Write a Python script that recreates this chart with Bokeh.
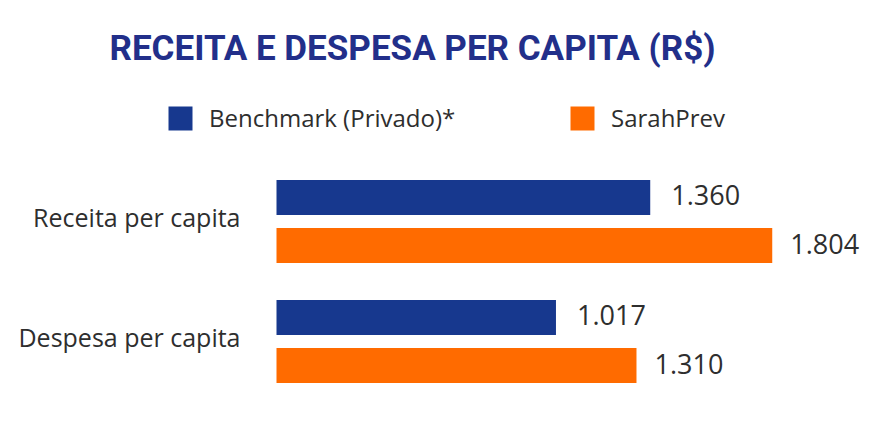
from bokeh.plotting import figure
from bokeh.models import ColumnDataSource, Range1d, Legend, LegendItem, Label
from bokeh.transform import dodge
from bokeh.core.properties import value
from bokeh.embed import file_html
from bokeh.resources import INLINE

# ---- data ----
title_text = "RECEITA E DESPESA PER CAPITA (R$)"
categories = ["Receita per capita", "Despesa per capita"]
series_names = ["Benchmark (Privado)*", "SarahPrev"]
benchmark = [1360, 1017]
sarahprev = [1804, 1310]

def br(v):
    return f"{v:,}".replace(",", ".")

# ---- layout constants (pixels) ----
W, H = 865, 425
K = 0.2748          # px per unit
X0 = 276            # x pixel of value 0
YC = 221            # y pixel of first category centre
UNIT = 120          # px per category
xs = -X0 / K
xe = xs + W / K

BLUE = "#17388e"
ORANGE = "#ff6b00"
TITLE_C = "#222f8a"
TXT = "#2e2e2e"
FONT = "Open Sans"

idx = list(range(len(categories)))
src = ColumnDataSource(dict(
    idx=idx,
    cat=categories,
    bench=benchmark,
    sarah=sarahprev,
    bench_lbl=[br(v) for v in benchmark],
    sarah_lbl=[br(v) for v in sarahprev],
    zero=[0] * len(categories),
))

p = figure(width=W, height=H, output_backend="svg", toolbar_location=None,
           x_range=Range1d(xs, xe),
           y_range=Range1d((H - YC) / UNIT, -YC / UNIT),
           min_border=0, min_border_left=0, min_border_right=0,
           min_border_top=0, min_border_bottom=0)
p.axis.visible = False
p.grid.visible = False
p.outline_line_color = None
p.background_fill_color = "white"
p.border_fill_color = "white"

off = 0.2
bh = 0.29
r_b = p.hbar(y=dodge("idx", -off, range=p.y_range), left=0, right="bench", height=bh,
             source=src, fill_color=BLUE, line_color=None)
r_s = p.hbar(y=dodge("idx", off, range=p.y_range), left=0, right="sarah", height=bh,
             source=src, fill_color=ORANGE, line_color=None)

# value labels
p.text(x="bench", y=dodge("idx", -off - 0.02, range=p.y_range), text="bench_lbl", source=src,
       x_offset=21, text_baseline="middle", text_align="left",
       text_font=value(FONT), text_font_size="27px", text_color=TXT)
p.text(x="sarah", y=dodge("idx", off - 0.01, range=p.y_range), text="sarah_lbl", source=src,
       x_offset=18, text_baseline="middle", text_align="left",
       text_font=value(FONT), text_font_size="27px", text_color=TXT)

# category labels
p.text(x="zero", y=dodge("idx", -0.04, range=p.y_range), text="cat", source=src,
       x_offset=-36, text_baseline="middle", text_align="right",
       text_font=value(FONT), text_font_size="25px", text_color=TXT)

# title
p.add_layout(Label(x=xs + 412 / K, y=(48 - YC) / UNIT, text=title_text,
                   text_align="center", text_baseline="middle",
                   text_font="Roboto", text_font_style="bold",
                   text_font_size="35px", text_color=TITLE_C))

# legends (one per series for exact placement)
def mk_legend(label, rend, loc):
    lg = Legend(items=[LegendItem(label=label, renderers=[rend])], location=loc,
                glyph_width=30, glyph_height=30, label_standoff=14,
                label_text_font=FONT, label_text_font_size="24px",
                label_text_color=TXT, padding=0, margin=0, spacing=0,
                border_line_color=None, background_fill_alpha=0)
    p.add_layout(lg)

mk_legend(series_names[0], r_b, (165, H - 134))
mk_legend(series_names[1], r_s, (567, H - 134))

open("out.html", "w").write(file_html(p, INLINE))
